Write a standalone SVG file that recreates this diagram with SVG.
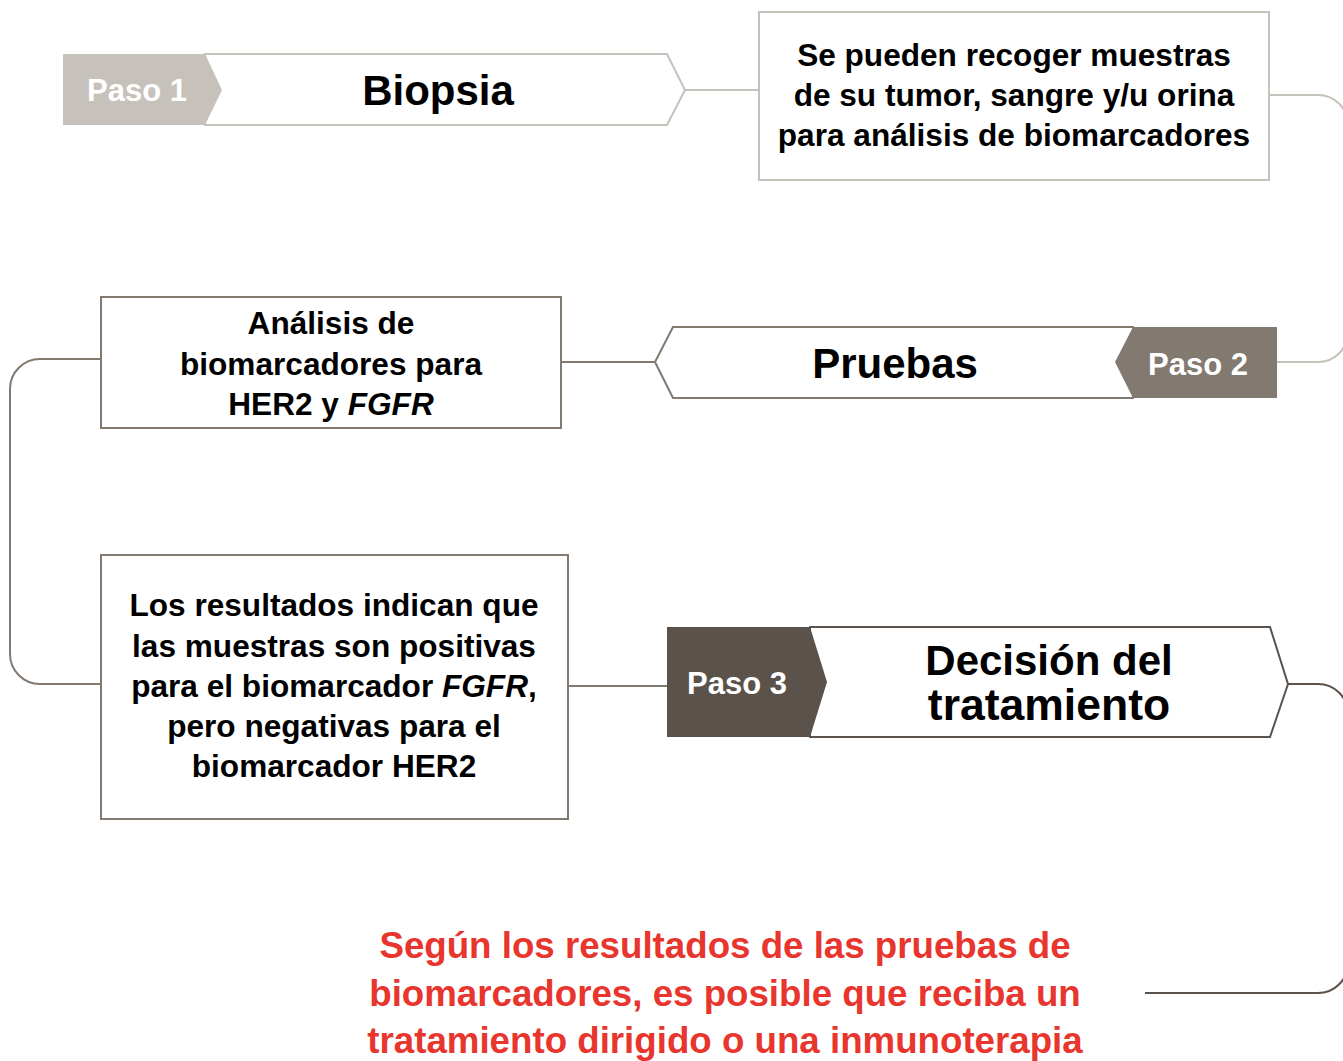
<svg xmlns="http://www.w3.org/2000/svg" width="1343" height="1061" viewBox="0 0 1343 1061">
<style>
text{font-family:"Liberation Sans",Arial,sans-serif;font-weight:700;text-anchor:middle}
.t{fill:#000;font-size:31.6px}
.h{fill:#000;font-size:42px}
.p{fill:#fff;font-size:31px}
.r{fill:#e8352d;font-size:36.7px}
.c{fill:none;stroke-width:2}
.l{stroke:#c6c2bb}
.m{stroke:#827970}
.d{stroke:#5b524b}
</style>
<rect width="1343" height="1061" fill="#fff"/>
<g id="connectors">
<path class="c l" d="M685,90H758"/>
<path class="c l" d="M1269,95H1318A30,30 0 0 1 1348,125V332A30,30 0 0 1 1318,362H1277"/>
<path class="c m" d="M561,362H655"/>
<path class="c m" d="M101,359H40A30,30 0 0 0 10,389V654A30,30 0 0 0 40,684H101"/>
<path class="c m" d="M568,686H667"/>
<path class="c d" d="M1288,684H1318A30,30 0 0 1 1348,714V963A30,30 0 0 1 1318,993H1145"/>
</g>
<g id="step1">
<path d="M205,54H667L685,90L667,125H205Z" fill="#fff" stroke="#c6c2bb" stroke-width="2"/>
<path d="M63,54H205L222,90L205,125H63Z" fill="#c6c2bb"/>
<text class="p" x="137" y="101">Paso 1</text>
<text class="h" x="438" y="105">Biopsia</text>
</g>
<g id="note1">
<rect x="759" y="12" width="510" height="168" fill="#fff" stroke="#c6c2bb" stroke-width="2"/>
<text class="t" x="1014" y="66">Se pueden recoger muestras</text>
<text class="t" x="1014" y="106">de su tumor, sangre y/u orina</text>
<text class="t" x="1014" y="146">para análisis de biomarcadores</text>
</g>
<g id="step2">
<path d="M673,327H1133V398H673L655,362Z" fill="#fff" stroke="#827970" stroke-width="2"/>
<path d="M1133,327H1277V398H1133L1115,362Z" fill="#827970"/>
<text class="p" x="1198" y="375">Paso 2</text>
<text class="h" x="895" y="378">Pruebas</text>
</g>
<g id="note2">
<rect x="101" y="297" width="460" height="131" fill="#fff" stroke="#827970" stroke-width="2"/>
<text class="t" x="331" y="334">Análisis de</text>
<text class="t" x="331" y="375">biomarcadores para</text>
<text class="t" x="331" y="415">HER2 y <tspan font-style="italic">FGFR</tspan></text>
</g>
<g id="note3">
<rect x="101" y="555" width="467" height="264" fill="#fff" stroke="#827970" stroke-width="2"/>
<text class="t" x="334" y="616">Los resultados indican que</text>
<text class="t" x="334" y="657">las muestras son positivas</text>
<text class="t" x="334" y="697">para el biomarcador <tspan font-style="italic">FGFR</tspan>,</text>
<text class="t" x="334" y="737">pero negativas para el</text>
<text class="t" x="334" y="777">biomarcador HER2</text>
</g>
<g id="step3">
<path d="M810,627H1270L1288,684L1270,737H810Z" fill="#fff" stroke="#5b524b" stroke-width="2"/>
<path d="M667,627H810L827,682L810,737H667Z" fill="#5b524b"/>
<text class="p" x="737" y="694">Paso 3</text>
<text class="h" x="1049" y="675">Decisión del</text>
<text class="h" x="1049" y="720" style="font-size:44.5px">tratamiento</text>
</g>
<g id="result">
<text class="r" x="725" y="958">Según los resultados de las pruebas de</text>
<text class="r" x="725" y="1006">biomarcadores, es posible que reciba un</text>
<text class="r" x="725" y="1053">tratamiento dirigido o una inmunoterapia</text>
</g>
</svg>
